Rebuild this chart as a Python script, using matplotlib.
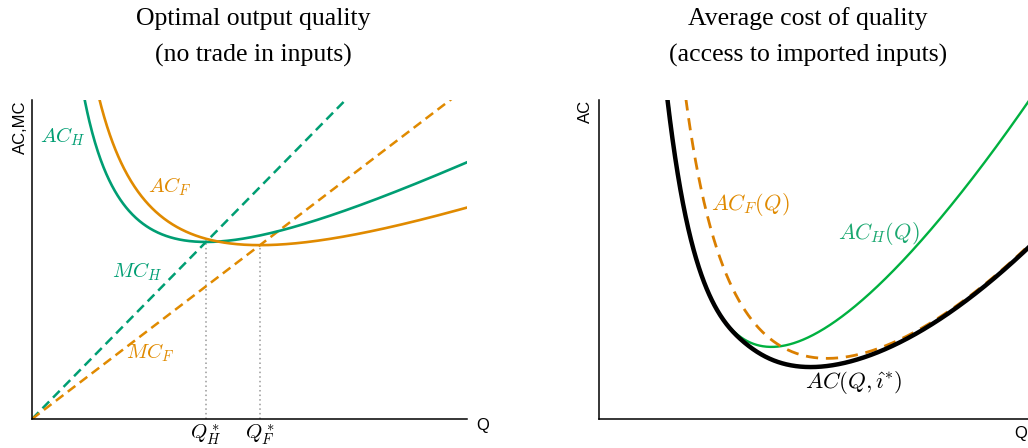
import numpy as np
import matplotlib
matplotlib.use("Agg")
import matplotlib.pyplot as plt

plt.rcParams['mathtext.fontset'] = 'cm'
plt.rcParams['font.family'] = ['Liberation Sans', 'DejaVu Sans']

# ---------------- data ----------------
# Left panel: AC = F/Q + m*Q/2, MC = m*Q ; parameters given by optimum (Q*, AC_min)
left_names = ['H', 'F']
left_qstar = [4.0, 5.24]          # optimal quality Q*_H, Q*_F
left_acmin = [5.55, 5.45]         # AC = MC at optimum
left_colors = ['#009E73', '#E08A00']
left_ticklabels = [r'$Q^*_H$', r'$Q^*_F$']

# Right panel: AC(Q) = m + s*[(r*(Q*/Q)^p + p*(Q/Q*)^r)/(p+r) - 1]
right_names = ['H', 'F', 'env']
right_qstar = [4.0, 5.3, 4.9]
right_acmin = [2.26, 1.9, 1.63]
right_scale = [7.04, 4.365, 3.92]
right_p = [1.5, 1.7, 1.5]
right_r = [1.5, 2.0, 2.0]

W, H = 1028, 448
fig = plt.figure(figsize=(W / 100, H / 100), dpi=100)

def axes_px(l, r, t, b):
    return fig.add_axes([l / W, (H - b) / H, (r - l) / W, (b - t) / H])

axL = axes_px(32, 467, 100, 419)
axR = axes_px(599, 1040, 100, 419)

for ax in (axL, axR):
    for s in ('top', 'right'):
        ax.spines[s].set_visible(False)
    for s in ('left', 'bottom'):
        ax.spines[s].set_linewidth(1.1)
    ax.set_yticks([])
    ax.set_ylim(0, 10)

# ---------------- left panel ----------------
axL.set_xlim(0, 10)
q = np.linspace(0.3, 10, 600)
qline = np.linspace(0, 10, 50)
for qs, acm, col in zip(left_qstar, left_acmin, left_colors):
    m = acm / qs
    F = acm * qs / 2
    axL.plot(q, F / q + m * q / 2, color=col, lw=1.9, zorder=3)
    axL.plot(qline, m * qline, color=col, lw=1.8, ls=(0, (3.8, 2.2)), zorder=2)
    axL.plot([qs, qs], [0, acm], color='#999999', lw=1.1, ls=(0, (1, 2)), zorder=1)

axL.set_xticks(left_qstar)
axL.set_xticklabels(left_ticklabels, fontsize=15)
axL.tick_params(axis='x', length=0, pad=3)

axL.text(0.71, 8.84, r'$AC_H$', color=left_colors[0], fontsize=15, ha='center', va='center')
axL.text(3.17, 7.27, r'$AC_F$', color=left_colors[1], fontsize=15, ha='center', va='center')
axL.text(2.41, 4.61, r'$MC_H$', color=left_colors[0], fontsize=15, ha='center', va='center')
axL.text(2.71, 2.07, r'$MC_F$', color=left_colors[1], fontsize=15, ha='center', va='center')

axL.set_ylabel('AC,MC', loc='top', fontsize=12, labelpad=3)
axL.text(1.0 + (476 - 467) / 435, -0.02, 'Q', transform=axL.transAxes,
         fontsize=12, ha='left', va='center')

# ---------------- right panel ----------------
axR.set_xlim(0, 441 / 43.1)
axR.set_xticks([])
qr = np.linspace(0.5, 441 / 43.1, 800)

def ac_curve(qq, qs, acm, s, p, r):
    x = qq / qs
    return acm + s * ((r * x ** (-p) + p * x ** r) / (p + r) - 1)

curves = [ac_curve(qr, *args) for args in zip(right_qstar, right_acmin, right_scale, right_p, right_r)]
acH, acF, acE = curves
# lower envelope over input mixes (smooth minimum)
k = 0.08
stack = np.vstack([acE, acH, acF])
lo = stack.min(axis=0)
env = lo - k * np.log(np.exp(-(stack - lo) / k).sum(axis=0))

axR.plot(qr, acH, color='#00B140', lw=1.7, zorder=2)
axR.plot(qr, acF, color='#DA7F00', lw=2.0, ls=(0, (4.4, 2.8)), zorder=3)
axR.plot(qr, env, color='black', lw=3.2, zorder=4)

axR.text(3.50, 6.71, r'$AC_F(Q)$', color='#E08A00', fontsize=16, ha='center', va='center')
axR.text(6.50, 5.83, r'$AC_H(Q)$', color='#1AA870', fontsize=16, ha='center', va='center')
axR.text(5.92, 1.13, r'$AC(Q,\hat{\imath}^{*})$', color='black', fontsize=16.5, ha='center', va='center')

axR.set_ylabel('AC', loc='top', fontsize=12, labelpad=4)
axR.text((1014 - 599) / 441, -0.047, 'Q', transform=axR.transAxes,
         fontsize=12, ha='left', va='center')

# ---------------- titles ----------------
tfont = dict(family=['Liberation Serif', 'DejaVu Serif'], fontsize=18.5, ha='center', va='center')
fig.text(253 / W, 1 - 19 / H, 'Optimal output quality', **tfont)
fig.text(253 / W, 1 - 55 / H, '(no trade in inputs)', **tfont)
fig.text(808 / W, 1 - 19 / H, 'Average cost of quality', **tfont)
fig.text(808 / W, 1 - 55 / H, '(access to imported inputs)', **tfont)

fig.savefig('out.png', dpi=100)
